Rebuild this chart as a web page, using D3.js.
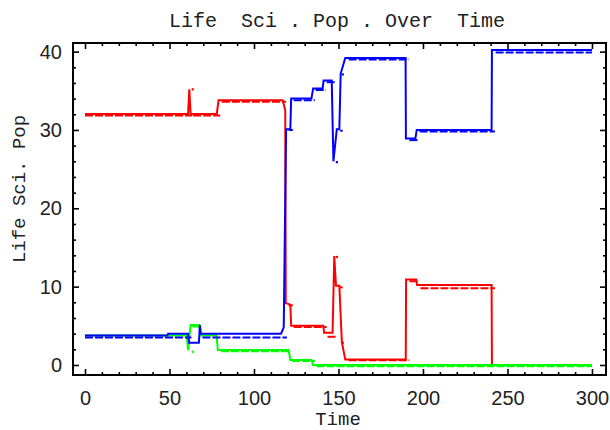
<!DOCTYPE html>
<html>
<head>
<meta charset="utf-8">
<script src="https://cdn.jsdelivr.net/npm/d3@7"></script>
<style>
  html, body { margin: 0; padding: 0; background: #fff; }
  svg { display: block; }
  .tick text { font-family: "Liberation Sans", Arial, sans-serif; font-size: 20px; fill: #222; }
</style>
</head>
<body>
<div id="chart"></div>
<script>
// axis ticks
const xMajorTicks = [0, 50, 100, 150, 200, 250, 300];
const yMajorTicks = [0, 10, 20, 30, 40];
const xMinorTicks = d3.range(0, 310, 10).filter((t) => t % 50 !== 0);
const yMinorTicks = d3.range(0, 42, 2).filter((t) => t % 10 !== 0);

// red series (solid = observed, steps = dashed model)
const redT = [0, 61, 61.7, 62.5, 78, 79, 117, 118.5, 118.8, 121.5, 122, 141, 141.5, 146.5, 147.5, 148.5, 150.5, 152, 154, 189.8, 190, 196, 196.5, 240.6, 240.8, 300];
const redV = [32.05, 32.05, 35.2, 32.05, 32.05, 33.8, 33.8, 32.5, 7.9, 7.7, 5.0, 5.0, 4.1, 4.1, 13.9, 10.1, 10.1, 2.9, 0.7, 0.7, 10.9, 10.9, 10.2, 10.2, 0, 0];
const redSteps = [[0, 63.5, 31.85], [64, 80, 31.85], [81, 119, 33.6], [120.5, 123, 7.6], [123.5, 143, 4.85], [143.5, 148.5, 3.6], [150.5, 152.5, 9.9], [156, 192, 0.6], [192, 198, 10.7], [198.5, 242.6, 9.8]];
const redDots = [[63.7, 35.2], [149, 13.8], [152.5, 2.85]];

// blue series
const blueT = [0, 48.7, 49.2, 61, 61.6, 67.4, 68, 68.6, 116, 117.6, 119, 121.5, 122, 134, 135, 140.6, 141.2, 146, 147, 149, 150.5, 151.3, 154, 189.7, 189.9, 195.5, 196.3, 240.6, 240.8, 300];
const blueV = [3.75, 3.75, 4.0, 4.0, 2.85, 2.85, 5.1, 4.0, 4.0, 4.8, 30.1, 30.1, 34.0, 34.0, 35.3, 35.3, 36.3, 36.3, 26.0, 30.1, 30.1, 37.2, 39.2, 39.2, 28.9, 28.9, 30.0, 30.0, 40.2, 40.2];
const blueSteps = [[0, 63, 3.5], [69.5, 119.5, 3.5], [120.5, 123, 30], [123.5, 136, 33.8], [136.5, 142.6, 35.1], [143, 148, 36.1], [151, 152.5, 29.9], [156, 191.7, 39.0], [192, 197.5, 28.7], [198, 242.6, 29.8], [243, 300, 39.9]];
const blueDots = [[149, 25.9], [152.5, 37.1]];

// green series
const greenT = [0, 60.2, 61, 62.5, 67.6, 68.4, 77.9, 78.6, 120.5, 121.5, 134, 135, 300];
const greenV = [3.75, 3.75, 1.9, 5.1, 5.1, 3.75, 3.75, 1.9, 1.9, 0.65, 0.65, 0, 0];
const greenSteps = [[63.5, 69.5, 4.9], [80.5, 122, 1.75], [122.5, 136, 0.5], [137, 300, -0.15]];
const greenDots = [[63.7, 1.7]];

const width = 610;
const height = 430;
const frame = { left: 73, right: 606, top: 43, bottom: 375 };

const x = d3.scaleLinear().domain([-7.1, 308.3]).range([frame.left, frame.right]);
const y = d3.scaleLinear().domain([-1.28, 41.1]).range([frame.bottom, frame.top]);

const svg = d3.select("#chart").append("svg")
  .attr("width", width)
  .attr("height", height);

// title + axis labels
svg.append("text")
  .attr("x", 337)
  .attr("y", 27)
  .attr("text-anchor", "middle")
  .attr("font-family", "'Liberation Mono', monospace")
  .attr("font-size", 20)
  .attr("fill", "#222")
  .style("white-space", "pre")
  .text("Life  Sci . Pop . Over  Time");

svg.append("text")
  .attr("x", 338)
  .attr("y", 425)
  .attr("text-anchor", "middle")
  .attr("font-family", "'Liberation Mono', monospace")
  .attr("font-size", 19)
  .attr("fill", "#222")
  .text("Time");

svg.append("text")
  .attr("transform", "translate(25,189) rotate(-90)")
  .attr("text-anchor", "middle")
  .attr("font-family", "'Liberation Mono', monospace")
  .attr("font-size", 19)
  .attr("fill", "#222")
  .text("Life Sci. Pop");

// series
const line = d3.line().x((d) => x(d[0])).y((d) => y(d[1]));

function drawSeries(times, values, steps, dots, color) {
  const g = svg.append("g");
  g.append("path")
    .datum(times.map((t, i) => [t, values[i]]))
    .attr("d", line)
    .attr("fill", "none")
    .attr("stroke", color)
    .attr("stroke-width", 2);

  g.selectAll("line.step")
    .data(steps)
    .join("line")
    .attr("class", "step")
    .attr("x1", (d) => x(d[0]))
    .attr("x2", (d) => x(d[1]))
    .attr("y1", (d) => y(d[2]))
    .attr("y2", (d) => y(d[2]))
    .attr("stroke", color)
    .attr("stroke-width", 2)
    .attr("stroke-dasharray", "8 2");

  g.selectAll("rect.dot")
    .data(dots)
    .join("rect")
    .attr("class", "dot")
    .attr("x", (d) => x(d[0]) - 1)
    .attr("y", (d) => y(d[1]) - 1)
    .attr("width", 2.2)
    .attr("height", 2.2)
    .attr("fill", color);
}

drawSeries(redT, redV, redSteps, redDots, "#ff0000");
drawSeries(greenT, greenV, greenSteps, greenDots, "#00ff00");
drawSeries(blueT, blueV, blueSteps, blueDots, "#0000ff");

// frame axes with inward ticks
function styleAxis(g) {
  g.select(".domain").remove();
  g.selectAll(".tick line").attr("stroke", "#000").attr("stroke-width", 1.6);
}

svg.append("g")
  .attr("transform", `translate(0,${frame.bottom})`)
  .call(d3.axisBottom(x).tickValues(xMajorTicks).tickSize(-6).tickPadding(16).tickFormat(d3.format("d")))
  .call(styleAxis);
svg.append("g")
  .attr("transform", `translate(0,${frame.bottom})`)
  .call(d3.axisBottom(x).tickValues(xMinorTicks).tickSize(-3).tickFormat(""))
  .call(styleAxis);
svg.append("g")
  .attr("transform", `translate(0,${frame.top})`)
  .call(d3.axisTop(x).tickValues(xMajorTicks).tickSize(-6).tickFormat(""))
  .call(styleAxis);
svg.append("g")
  .attr("transform", `translate(0,${frame.top})`)
  .call(d3.axisTop(x).tickValues(xMinorTicks).tickSize(-3).tickFormat(""))
  .call(styleAxis);

svg.append("g")
  .attr("transform", `translate(${frame.left},0)`)
  .call(d3.axisLeft(y).tickValues(yMajorTicks).tickSize(-6).tickPadding(11).tickFormat(d3.format("d")))
  .call(styleAxis);
svg.append("g")
  .attr("transform", `translate(${frame.left},0)`)
  .call(d3.axisLeft(y).tickValues(yMinorTicks).tickSize(-3).tickFormat(""))
  .call(styleAxis);
svg.append("g")
  .attr("transform", `translate(${frame.right},0)`)
  .call(d3.axisRight(y).tickValues(yMajorTicks).tickSize(-6).tickFormat(""))
  .call(styleAxis);
svg.append("g")
  .attr("transform", `translate(${frame.right},0)`)
  .call(d3.axisRight(y).tickValues(yMinorTicks).tickSize(-3).tickFormat(""))
  .call(styleAxis);

svg.append("rect")
  .attr("x", frame.left)
  .attr("y", frame.top)
  .attr("width", frame.right - frame.left)
  .attr("height", frame.bottom - frame.top)
  .attr("fill", "none")
  .attr("stroke", "#000")
  .attr("stroke-width", 2);
</script>
</body>
</html>
